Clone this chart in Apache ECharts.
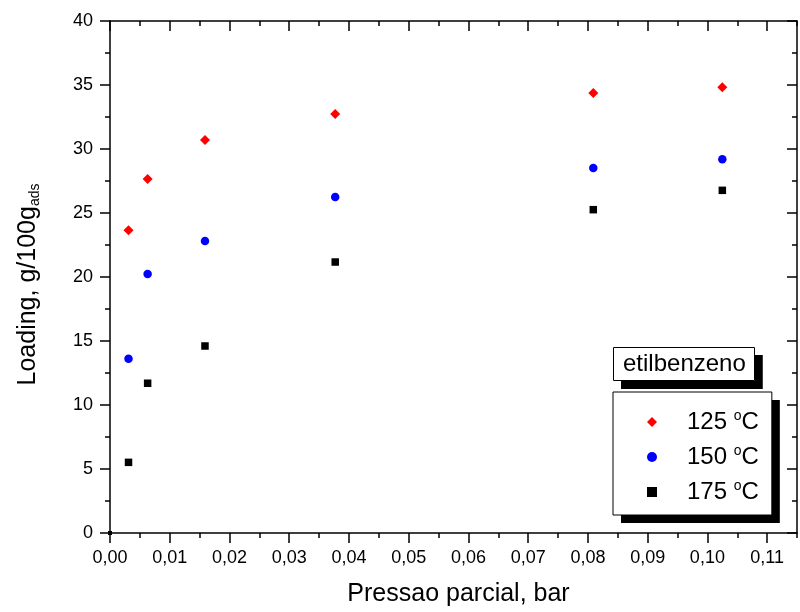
<!DOCTYPE html>
<html>
<head>
<meta charset="utf-8">
<title>Loading etilbenzeno</title>
<script src="https://cdn.jsdelivr.net/npm/echarts@6/dist/echarts.min.js"></script>
<style>
  html, body { margin: 0; padding: 0; background: #fff; }
  #chart { width: 800px; height: 612px; }
</style>
</head>
<body>
<div id="chart"></div>
<script>
// Partial pressure (bar) shared by all three isotherms
const pressure = [0, 0.0031, 0.0063, 0.0159, 0.0377, 0.0809, 0.1025];
// Loading, g/100g adsorbent
const loading125 = [0, 23.65, 27.66, 30.70, 32.73, 34.38, 34.82];
const loading150 = [0, 13.62, 20.23, 22.81, 26.25, 28.52, 29.19];
const loading175 = [0, 5.52, 11.70, 14.61, 21.17, 25.26, 26.77];

const seriesNames = ['125 °C', '150 °C', '175 °C'];
const xMajorTicks = [0, 0.01, 0.02, 0.03, 0.04, 0.05, 0.06, 0.07, 0.08, 0.09, 0.10, 0.11];

const FONT = 'Liberation Sans, Arial, sans-serif';
const X_MIN = 0, X_MAX = 0.115, Y_MIN = 0, Y_MAX = 40;
const CLEAR = 'rgba(0,0,0,0)';

function pairs(ys) {
  return pressure.map((p, i) => [p, ys[i]]);
}

const lineStyle = { color: '#000', width: 1.5 };

// Shared box layout for the caption and the legend; the shadow copy sits
// underneath (fill only) and the framed copy draws border, text and icons.
const titleBase = {
  text: 'etilbenzeno',
  left: 613,
  top: 347,
  padding: [5, 9, 5, 10],
  textStyle: { fontFamily: FONT, fontSize: 24, fontWeight: 'normal', color: '#000', lineHeight: 24 }
};

function legendBase(textColor, iconOpacity) {
  return {
    orient: 'vertical',
    left: 613,
    top: 392,
    padding: [17, 13, 11, 34],
    itemWidth: 10,
    itemHeight: 10,
    itemGap: 10,
    selectedMode: false,
    data: [
      { name: seriesNames[0], icon: 'diamond' },
      { name: seriesNames[1], icon: 'circle' },
      { name: seriesNames[2], icon: 'rect' }
    ],
    itemStyle: { opacity: iconOpacity },
    formatter: function (name) {
      const t = name.replace(' °C', '');
      return '{a|' + t + ' }{s|o}{c|C}';
    },
    textStyle: {
      fontFamily: FONT,
      color: textColor,
      rich: {
        a: { fontFamily: FONT, fontSize: 24, lineHeight: 26, color: textColor, padding: [0, 0, 0, 25] },
        s: { fontFamily: FONT, fontSize: 14, lineHeight: 6, verticalAlign: 'top', color: textColor },
        c: { fontFamily: FONT, fontSize: 24, lineHeight: 26, color: textColor }
      }
    }
  };
}

const chart = echarts.init(document.getElementById('chart'), null, { renderer: 'canvas' });

const option = {
  animation: false,
  backgroundColor: '#fff',
  textStyle: { fontFamily: FONT, color: '#000' },
  title: [
    Object.assign({}, titleBase, {
      backgroundColor: '#fff',
      borderWidth: 0,
      shadowColor: '#000',
      shadowBlur: 0,
      shadowOffsetX: 8,
      shadowOffsetY: 8,
      textStyle: Object.assign({}, titleBase.textStyle, { color: CLEAR })
    }),
    Object.assign({}, titleBase, {
      backgroundColor: CLEAR,
      borderColor: '#000',
      borderWidth: 1
    })
  ],
  legend: [
    Object.assign(legendBase(CLEAR, 0), {
      backgroundColor: '#fff',
      borderWidth: 0,
      shadowColor: '#000',
      shadowBlur: 0,
      shadowOffsetX: 8,
      shadowOffsetY: 8
    }),
    Object.assign(legendBase('#000', 1), {
      backgroundColor: CLEAR,
      borderColor: '#000',
      borderWidth: 1
    })
  ],
  grid: [
    { left: 110, right: 3, top: 21, bottom: 79 },
    { left: 110, right: 3, top: 21, bottom: 79 }
  ],
  xAxis: [
    {
      gridIndex: 0, type: 'value', position: 'bottom',
      min: X_MIN, max: X_MAX, interval: 0.005,
      name: 'Pressao parcial, bar',
      nameLocation: 'middle',
      nameGap: 49,
      nameTextStyle: { fontFamily: FONT, fontSize: 25, color: '#000', padding: [0, 0, 0, 10] },
      axisLine: { show: true, onZero: false, lineStyle: lineStyle },
      axisTick: { show: true, inside: false, length: 5, lineStyle: lineStyle },
      axisLabel: {
        show: true,
        customValues: xMajorTicks,
        margin: 16,
        fontFamily: FONT, fontSize: 18, color: '#000',
        formatter: v => v.toFixed(2).replace('.', ',')
      },
      splitLine: { show: false }
    },
    {
      gridIndex: 0, type: 'value', position: 'top',
      min: X_MIN, max: X_MAX, interval: 0.005,
      axisLine: { show: true, onZero: false, lineStyle: lineStyle },
      axisTick: { show: true, inside: true, length: 5, lineStyle: lineStyle },
      axisLabel: { show: false },
      splitLine: { show: false }
    },
    {
      gridIndex: 1, type: 'value', position: 'bottom',
      min: X_MIN, max: X_MAX, interval: 0.01,
      axisLine: { show: false, onZero: false },
      axisTick: { show: true, inside: false, length: 10, customValues: xMajorTicks, lineStyle: lineStyle },
      axisLabel: { show: false },
      splitLine: { show: false }
    },
    {
      gridIndex: 1, type: 'value', position: 'top',
      min: X_MIN, max: X_MAX, interval: 0.01,
      axisLine: { show: false, onZero: false },
      axisTick: { show: true, inside: true, length: 10, customValues: xMajorTicks, lineStyle: lineStyle },
      axisLabel: { show: false },
      splitLine: { show: false }
    }
  ],
  yAxis: [
    {
      gridIndex: 0, type: 'value', position: 'left',
      min: Y_MIN, max: Y_MAX, interval: 5,
      name: '{a|Loading, g/100g}{b|ads}',
      nameLocation: 'middle',
      nameGap: 68,
      nameTextStyle: {
        fontFamily: FONT, color: '#000',
        rich: {
          a: { fontFamily: FONT, fontSize: 25, lineHeight: 28, color: '#000' },
          b: { fontFamily: FONT, fontSize: 14, lineHeight: 4, verticalAlign: 'bottom', color: '#000', padding: [0, 15, 0, 0] }
        }
      },
      axisLine: { show: true, onZero: false, lineStyle: lineStyle },
      axisTick: { show: true, inside: false, length: 10, lineStyle: lineStyle },
      minorTick: { show: true, splitNumber: 2, length: 5, lineStyle: lineStyle },
      axisLabel: { show: true, margin: 17, fontFamily: FONT, fontSize: 18, color: '#000' },
      splitLine: { show: false },
      minorSplitLine: { show: false }
    },
    {
      gridIndex: 0, type: 'value', position: 'right',
      min: Y_MIN, max: Y_MAX, interval: 5,
      axisLine: { show: true, onZero: false, lineStyle: lineStyle },
      axisTick: { show: true, inside: true, length: 10, lineStyle: lineStyle },
      minorTick: { show: true, splitNumber: 2, length: 5, lineStyle: lineStyle },
      axisLabel: { show: false },
      splitLine: { show: false }
    },
    {
      gridIndex: 1, type: 'value', show: false,
      min: Y_MIN, max: Y_MAX
    }
  ],
  series: [
    {
      name: seriesNames[0], type: 'scatter', xAxisIndex: 0, yAxisIndex: 0,
      symbol: 'diamond',
      symbolSize: v => (v[0] === 0 ? 4 : 10),
      itemStyle: { color: '#ff0000', opacity: 1 },
      data: pairs(loading125)
    },
    {
      name: seriesNames[1], type: 'scatter', xAxisIndex: 0, yAxisIndex: 0,
      symbol: 'circle',
      symbolSize: v => (v[0] === 0 ? 4 : 8.5),
      itemStyle: { color: '#0000ff', opacity: 1 },
      data: pairs(loading150)
    },
    {
      name: seriesNames[2], type: 'scatter', xAxisIndex: 0, yAxisIndex: 0,
      symbol: 'rect',
      symbolSize: v => (v[0] === 0 ? 4 : 7.5),
      itemStyle: { color: '#000000', opacity: 1 },
      data: pairs(loading175)
    }
  ]
};

chart.setOption(option);
</script>
</body>
</html>
